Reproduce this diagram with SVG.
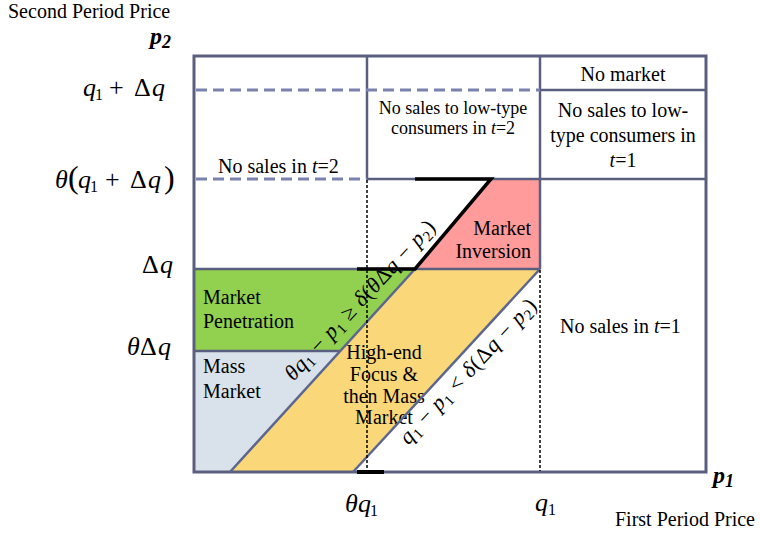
<svg xmlns="http://www.w3.org/2000/svg" width="760" height="535" viewBox="0 0 760 535">
<style>
text{font-family:"Liberation Serif","Times New Roman",serif;fill:#000}
.lbl{font-size:20px}
.sm{font-size:18px}
.m{font-size:26px}
.i{font-style:italic}
.frame{fill:none;stroke:#5a5f80;stroke-width:3}
.ln{stroke:#5a5f80;stroke-width:2.5;fill:none}
.dash{stroke:#7b82ad;stroke-width:3;stroke-dasharray:11 6;fill:none}
.diag{stroke:#5b6690;stroke-width:2.5;fill:none}
.dot{stroke:#000;stroke-width:1.5;stroke-dasharray:3 2;fill:none}
.blk{stroke:#000;stroke-width:3.5;fill:none}
.bx{font-weight:bold;font-style:italic}
</style>
<rect width="760" height="535" fill="#fff"/>
<g id="market-penetration"><polygon points="194,269 415,269 340,351 194,351" fill="#92d050"/>
<text class="lbl" x="203" y="304">Market</text><text class="lbl" x="203" y="328">Penetration</text></g>
<g id="mass-market"><polygon points="194,351 340,351 230,472 194,472" fill="#d9e2ea"/>
<text class="lbl" x="203" y="373">Mass</text><text class="lbl" x="203" y="398">Market</text></g>
<g id="high-end"><polygon points="230,472 415,269 540,269 353,472" fill="#fad87a"/>
<text class="lbl" text-anchor="middle" x="384" y="359">High-end</text><text class="lbl" text-anchor="middle" x="384" y="381">Focus &amp;</text><text class="lbl" text-anchor="middle" x="384" y="403">then Mass</text><text class="lbl" text-anchor="middle" x="384" y="424">Market</text></g>
<g id="market-inversion"><polygon points="491,179 540,179 540,269 415,269" fill="#ff9b9b"/>
<text class="lbl" text-anchor="end" x="531" y="235">Market</text><text class="lbl" text-anchor="end" x="531" y="258">Inversion</text></g>
<g id="no-market"><text class="lbl" text-anchor="middle" x="623" y="81">No market</text></g>
<g id="no-low-t1"><text class="lbl" text-anchor="middle" x="623" y="117">No sales to low-</text><text class="lbl" text-anchor="middle" x="623" y="142">type consumers in</text><text class="lbl" text-anchor="middle" x="623" y="167"><tspan class="i">t</tspan>=1</text></g>
<g id="no-low-t2"><text class="sm" text-anchor="middle" x="453" y="114">No sales to low-type</text><text class="sm" text-anchor="middle" x="453" y="134">consumers in <tspan class="i">t</tspan>=2</text></g>
<g id="no-sales-t2"><text class="lbl" x="218" y="173">No sales in <tspan class="i">t</tspan>=2</text></g>
<g id="no-sales-t1"><text class="lbl" x="560" y="333">No sales in <tspan class="i">t</tspan>=1</text></g>
<g id="connectors">
<rect class="frame" x="194" y="56" width="512" height="416"/>
<line class="ln" x1="367" y1="56" x2="367" y2="179"/>
<line class="ln" x1="540" y1="56" x2="540" y2="269"/>
<line class="ln" x1="540" y1="90" x2="706" y2="90"/>
<line class="dash" x1="196" y1="90" x2="540" y2="90"/>
<line class="dash" x1="196" y1="179" x2="367" y2="179"/>
<line class="ln" x1="367" y1="179" x2="706" y2="179"/>
<line class="ln" x1="194" y1="269" x2="540" y2="269"/>
<line class="ln" x1="194" y1="351" x2="340" y2="351"/>
<line class="diag" x1="230" y1="472" x2="415" y2="269"/>
<line class="diag" x1="353" y1="472" x2="540" y2="269"/>
<line class="dot" x1="367" y1="180" x2="367" y2="471"/>
<line class="dot" x1="540" y1="270" x2="540" y2="471"/>
<polyline class="blk" points="415,179 491,179 415,269 357,269"/>
<line stroke="#000" stroke-width="4" x1="357" y1="472" x2="384" y2="472"/>
</g>
<g id="axis-labels">
<text style="font-size:20px" x="8" y="18">Second Period Price</text>
<text style="font-size:20px" x="615" y="526">First Period Price</text>
<text class="bx" style="font-size:24px" x="150" y="44">p<tspan style="font-size:18px" dy="4">2</tspan></text>
<text class="bx" style="font-size:24px" x="713" y="483">p<tspan style="font-size:18px" dy="4">1</tspan></text>
</g>
<g id="tick-labels" class="m">
<text y="96"><tspan class="i" x="83">q</tspan><tspan x="95" dy="4" style="font-size:16px">1</tspan><tspan x="109" dy="-4">+</tspan><tspan x="134">Δ</tspan><tspan class="i" x="152">q</tspan></text>
<text y="188"><tspan class="i" x="55">θ</tspan><tspan x="68" style="font-size:32px">(</tspan><tspan class="i" x="78">q</tspan><tspan x="90" dy="4" style="font-size:16px">1</tspan><tspan x="105" dy="-4">+</tspan><tspan x="130">Δ</tspan><tspan class="i" x="148">q</tspan><tspan x="164" style="font-size:32px">)</tspan></text>
<text y="273"><tspan x="142">Δ</tspan><tspan class="i" x="160">q</tspan></text>
<text y="355"><tspan class="i" x="127">θ</tspan><tspan x="140">Δ</tspan><tspan class="i" x="158">q</tspan></text>
<text y="512"><tspan class="i" x="345">θ</tspan><tspan class="i" x="358">q</tspan><tspan x="370" dy="4" style="font-size:16px">1</tspan></text>
<text y="511"><tspan class="i" x="535">q</tspan><tspan x="548" dy="4" style="font-size:16px">1</tspan></text>
</g>
<g id="constraint-labels" style="font-size:22px">
<text transform="translate(365,305) rotate(-47)" text-anchor="middle" textLength="210" lengthAdjust="spacing"><tspan class="i">θq</tspan><tspan dy="4" style="font-size:15px">1</tspan><tspan dy="-4"> − </tspan><tspan class="i">p</tspan><tspan dy="4" style="font-size:15px">1</tspan><tspan dy="-4"> ≥ </tspan><tspan class="i">δ</tspan>(<tspan class="i">θ</tspan>Δ<tspan class="i">q</tspan> − <tspan class="i">p</tspan><tspan dy="4" style="font-size:15px">2</tspan><tspan dy="-4">)</tspan></text>
<text transform="translate(473,376) rotate(-47)" text-anchor="middle" textLength="190" lengthAdjust="spacing"><tspan class="i">q</tspan><tspan dy="4" style="font-size:15px">1</tspan><tspan dy="-4"> − </tspan><tspan class="i">p</tspan><tspan dy="4" style="font-size:15px">1</tspan><tspan dy="-4"> &lt; </tspan><tspan class="i">δ</tspan>(Δ<tspan class="i">q</tspan> − <tspan class="i">p</tspan><tspan dy="4" style="font-size:15px">2</tspan><tspan dy="-4">)</tspan></text>
</g>
</svg>
